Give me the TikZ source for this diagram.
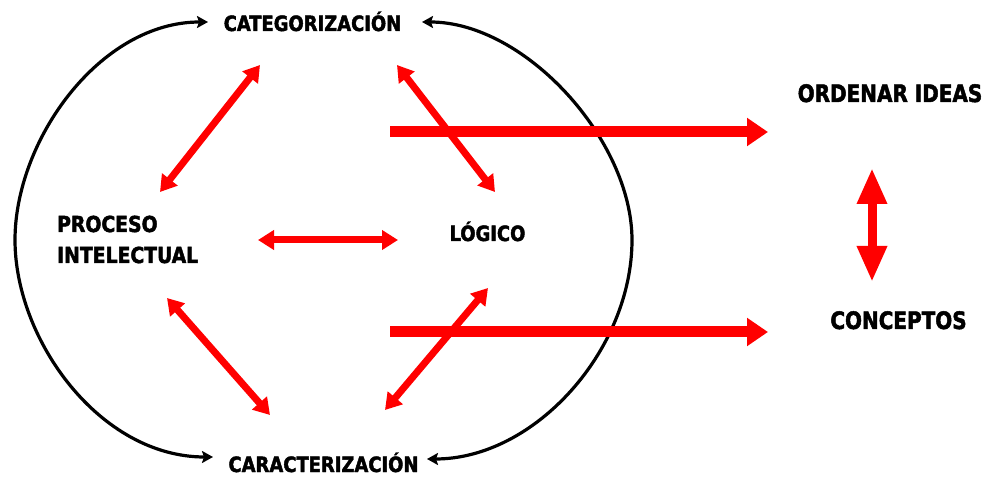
\documentclass[tikz,border=0pt]{standalone}
\usepackage{fontspec}
\usetikzlibrary{arrows.meta}
\newfontfamily\lblfont[FakeStretch=0.95,FakeBold=2]{DejaVu Sans Condensed}
\newfontfamily\biglblfont[FakeStretch=0.925,FakeBold=2]{DejaVu Sans Condensed}
\definecolor{arrred}{RGB}{255,0,0}
\tikzset{
  lbl/.style={inner sep=0pt, font=\lblfont\bfseries\fontsize{21}{31}\selectfont},
  biglbl/.style={inner sep=0pt, font=\biglblfont\bfseries\fontsize{24}{28}\selectfont},
  cycarc/.style={draw=black, line width=3.2pt, {Stealth[length=11pt,width=12pt,inset=2pt]}-{Stealth[length=11pt,width=12pt,inset=2pt]}},
  redlink/.style={draw=arrred, line width=7pt, {Triangle[length=16pt,width=19pt]}-{Triangle[length=16pt,width=19pt]}},
  redflow/.style={draw=arrred, line width=11pt, -{Triangle[length=21pt,width=27pt]}},
  redvert/.style={draw=arrred, line width=9pt, {Triangle[length=36pt,width=28pt]}-{Triangle[length=36pt,width=28pt]}}
}
\begin{document}
\begin{tikzpicture}[x=1pt,y=-1pt]
\useasboundingbox (0,0) rectangle (986,478);
% labels
\node[lbl, anchor=base] (cat) at (312.5,31) {CATEGORIZACIÓN};
\node[lbl, anchor=base] (car) at (323.5,472) {CARACTERIZACIÓN};
\node[lbl, anchor=base west, align=left, font=\lblfont\bfseries\fontsize{22}{31}\selectfont] (proc) at (57,263) {PROCESO\\INTELECTUAL};
\node[lbl, anchor=base] (log) at (487.5,241) {LÓGICO};
\node[biglbl, anchor=base] (ord) at (890,102) {ORDENAR IDEAS};
\node[biglbl, anchor=base] (con) at (898.5,329) {CONCEPTOS};
% arc end points
\coordinate (lt) at (208,22);
\coordinate (lb) at (213,457);
\coordinate (rt) at (422,22);
\coordinate (rb) at (427,459);
\coordinate (lm) at (15,240);
\coordinate (rm) at (632,240);
% black cycle arcs
\path[cycarc] (lt) .. controls (100,22) and (15,140) .. (lm)
  .. controls (15,340) and (100,457) .. (lb);
\path[cycarc] (rt) .. controls (525,22) and (632,140) .. (rm)
  .. controls (632,350) and (535,459) .. (rb);
% red link arrows
\coordinate (a1s) at (260,65);  \coordinate (a1e) at (160,192);
\coordinate (a2s) at (397,65);  \coordinate (a2e) at (495,192);
\coordinate (a3s) at (258,240); \coordinate (a3e) at (398,240);
\coordinate (a4s) at (167,298); \coordinate (a4e) at (270,415);
\coordinate (a5s) at (488,288); \coordinate (a5e) at (385,410);
\path[redlink] (a1s) -- (a1e);
\path[redlink] (a2s) -- (a2e);
\path[redlink] (a3s) -- (a3e);
\path[redlink] (a4s) -- (a4e);
\path[redlink] (a5s) -- (a5e);
% flow arrows
\coordinate (f1s) at (390,132); \coordinate (f1e) at (768,132);
\coordinate (f2s) at (390,332); \coordinate (f2e) at (768,332);
\path[redflow] (f1s) -- (f1e);
\path[redflow] (f2s) -- (f2e);
% vertical arrow
\coordinate (vt) at (872,168); \coordinate (vb) at (872,282);
\path[redvert] (vt) -- (vb);
\end{tikzpicture}
\end{document}
